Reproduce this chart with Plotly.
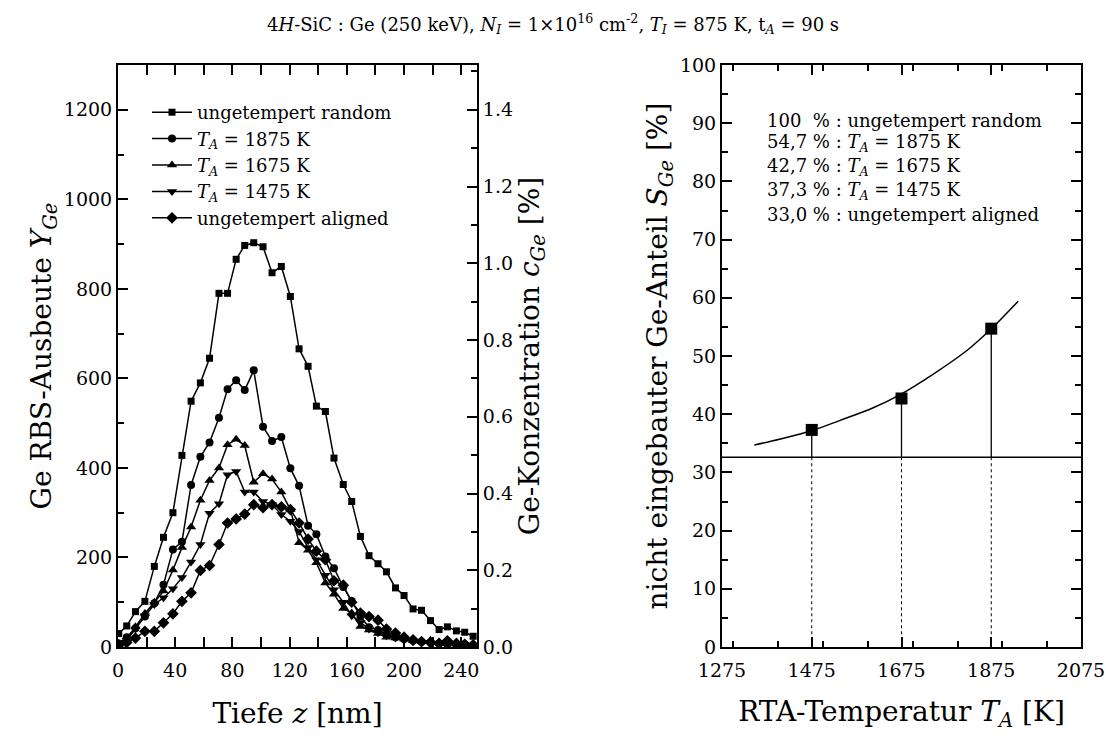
import plotly.graph_objects as go

# ---------------- data: left panel (RBS depth profiles) ----------------
depth_nm = [0.5, 6.1, 12.2, 18.8, 25.4, 31.8, 38.4, 44.7, 51.1, 57.6, 64.0, 70.6, 76.6, 82.6,
            88.6, 94.9, 101.4, 107.7, 114.2, 120.5, 126.6, 132.9, 138.7, 145.0, 151.0, 157.5,
            163.4, 169.5, 175.5, 181.8, 187.7, 194.0, 200.0, 206.3, 212.2, 218.5, 224.5, 230.3,
            236.6, 242.4, 248.3]
yield_random = [30, 47, 79, 102, 180, 245, 300, 428, 549, 590,
                645, 790, 790, 866, 897, 903, 894, 836, 850, 783,
                666, 627, 538, 526, 422, 363, 325, 247, 204, 186,
                168, 132, 115, 85, 82, 59, 39, 45, 36, 33, 24]
yield_1875 = [8, 22, 42, 68, 98, 139, 218, 235, 362, 425,
              457, 512, 576, 596, 574, 618, 492, 460, 469, 399,
              360, 271, 252, 202, 176, 134, 103, 68, 44, 38,
              28, 22, 18, 14, 12, 10, 8, 6, 5, 6, 4]
yield_1675 = [5, 18, 45, 75, 100, 125, 172, 222, 268, 328,
              372, 400, 452, 464, 450, 368, 387, 375, 346, 307,
              233, 216, 188, 143, 118, 86, 76, 46, 38, 30,
              22, 20, 18, 14, 12, 15, 10, 8, 6, 5, 4]
yield_1475 = [5, 15, 40, 70, 95, 110, 130, 155, 190, 229,
              299, 320, 385, 392, 346, 346, 325, 318, 296, 281,
              258, 222, 195, 160, 128, 100, 70, 55, 40, 32,
              25, 20, 15, 12, 10, 8, 6, 8, 5, 5, 4]
yield_aligned = [5, 10, 20, 35, 35, 54, 74, 102, 121, 171,
                 182, 229, 277, 286, 297, 318, 311, 318, 313, 307,
                 277, 241, 214, 195, 148, 138, 100, 76, 68, 60,
                 40, 31, 22, 16, 12, 10, 8, 14, 8, 6, 5]
yield_per_percent = 857.142857   # 1200 counts <-> 1.4 %

series_names = ["ungetempert random",
                "<i>T</i><sub><i>A</i></sub> = 1875 K",
                "<i>T</i><sub><i>A</i></sub> = 1675 K",
                "<i>T</i><sub><i>A</i></sub> = 1475 K",
                "ungetempert aligned"]
series_values = [yield_random, yield_1875, yield_1675, yield_1475, yield_aligned]
series_symbols = ["square", "circle", "triangle-up", "triangle-down", "diamond"]
series_sizes = [7, 8, 9, 9, 9]

# ---------------- data: right panel (non-substitutional fraction) ----------------
anneal_T = [1475, 1675, 1875]
fraction_S = [37.3, 42.7, 54.7]
aligned_level = 32.6
fit_T = [1347, 1403, 1476, 1537, 1612, 1675, 1746, 1820, 1874, 1910, 1935]
fit_S = [34.7, 35.7, 37.2, 38.9, 41.1, 43.5, 46.9, 50.9, 54.6, 57.4, 59.4]
info_lines = ["100\u00a0\u00a0% : ungetempert random",
              "54,7 % : <i>T</i><sub><i>A</i></sub> = 1875 K",
              "42,7 % : <i>T</i><sub><i>A</i></sub> = 1675 K",
              "37,3 % : <i>T</i><sub><i>A</i></sub> = 1475 K",
              "33,0 % : ungetempert aligned"]

W, H = 1106, 738
FONT = "DejaVu Serif"

def px_x(p):
    return p / W

def px_y(p):
    return 1 - p / H

fig = go.Figure()

for name, vals, sym, sz in zip(series_names, series_values, series_symbols, series_sizes):
    fig.add_trace(go.Scatter(
        x=depth_nm, y=vals, mode="lines+markers", name=name,
        marker=dict(symbol=sym, size=sz, color="black"),
        line=dict(color="black", width=1.5),
        xaxis="x", yaxis="y"))

# invisible trace to activate the concentration axis
fig.add_trace(go.Scatter(
    x=depth_nm, y=[v / yield_per_percent for v in yield_random], mode="lines",
    line=dict(width=0, color="rgba(0,0,0,0)"), showlegend=False, hoverinfo="skip",
    xaxis="x", yaxis="y2"))

# right panel: fit curve
fig.add_trace(go.Scatter(
    x=fit_T, y=fit_S, mode="lines", line=dict(color="black", width=1.5, shape="spline"),
    showlegend=False, xaxis="x2", yaxis="y3"))

# solid drop lines from points to aligned level, dotted below
sx, sy, dx, dy = [], [], [], []
for t, s in zip(anneal_T, fraction_S):
    sx += [t, t, None]
    sy += [s, aligned_level, None]
    dx += [t, t, None]
    dy += [aligned_level, 0, None]
fig.add_trace(go.Scatter(x=sx, y=sy, mode="lines", line=dict(color="black", width=1.3),
                         showlegend=False, xaxis="x2", yaxis="y3"))
fig.add_trace(go.Scatter(x=dx, y=dy, mode="lines", line=dict(color="black", width=1, dash="dot"),
                         showlegend=False, xaxis="x2", yaxis="y3"))
fig.add_trace(go.Scatter(x=anneal_T, y=fraction_S, mode="markers",
                         marker=dict(symbol="square", size=12, color="black"),
                         showlegend=False, xaxis="x2", yaxis="y3"))

fig.add_shape(type="line", xref="x2 domain", x0=0, x1=1, yref="y3",
              y0=aligned_level, y1=aligned_level, line=dict(color="black", width=1.3))

axis_common = dict(showline=True, linewidth=2, linecolor="black", ticks="inside",
                   ticklen=10, tickwidth=1.5, tickcolor="black", showgrid=False,
                   zeroline=False, tickfont=dict(size=19, family=FONT, color="black"),
                   automargin=False)
minor_common = dict(ticks="inside", ticklen=6, tickwidth=1.5, tickcolor="black")

dom_y = [px_y(647), px_y(65)]
title_font = dict(size=28, family=FONT, color="black")

fig.update_layout(
    width=W, height=H, margin=dict(l=0, r=0, t=0, b=0),
    paper_bgcolor="white", plot_bgcolor="white",
    font=dict(family=FONT, color="black"),
    xaxis=dict(axis_common, domain=[px_x(118), px_x(477)], anchor="y", range=[0, 251],
               tick0=0, dtick=40, mirror="allticks", ticklabelstandoff=5,
               minor=dict(minor_common, dtick=20),
               title=dict(text="Tiefe <i>z</i> [nm]", font=title_font, standoff=24)),
    yaxis=dict(axis_common, domain=dom_y, anchor="x", range=[0, 1300], tick0=0, dtick=200,
               minor=dict(minor_common, dtick=100),
               title=dict(text="Ge RBS-Ausbeute <i>Y</i><sub><i>Ge</i></sub>", font=title_font,
                          standoff=4)),
    yaxis2=dict(axis_common, overlaying="y", side="right", anchor="x",
                range=[0, 1300 / yield_per_percent], tick0=0, dtick=0.2, tickformat=".1f",
                minor=dict(minor_common, dtick=0.1),
                title=dict(text="Ge-Konzentration <i>c</i><sub><i>Ge</i></sub> [%]",
                           font=title_font, standoff=6)),
    xaxis2=dict(axis_common, domain=[px_x(722), px_x(1081)], anchor="y3", range=[1275, 2075],
                tick0=1275, dtick=200, mirror="allticks", ticklabelstandoff=5,
                minor=dict(minor_common, dtick=100),
                title=dict(text="RTA-Temperatur <i>T</i><sub><i>A</i></sub> [K]", font=title_font,
                           standoff=22)),
    yaxis3=dict(axis_common, domain=dom_y, anchor="x2", range=[0, 100], tick0=0, dtick=10,
                mirror="allticks",
                minor=dict(minor_common, dtick=5),
                title=dict(text="nicht eingebauter Ge-Anteil <i>S</i><sub><i>Ge</i></sub> [%]",
                           font=title_font, standoff=4)),
    legend=dict(x=px_x(147), y=px_y(94), xanchor="left", yanchor="top",
                bgcolor="rgba(0,0,0,0)", borderwidth=0,
                font=dict(size=18, family=FONT, color="black"), itemwidth=40,
                tracegroupgap=0),
)

fig.add_annotation(
    xref="paper", yref="paper", x=0.5, y=px_y(24), xanchor="center", yanchor="middle",
    showarrow=False, font=dict(size=18, family=FONT, color="black"),
    text="4<i>H</i>-SiC : Ge (250 keV), <i>N</i><sub><i>I</i></sub> = 1×10<sup>16</sup> cm<sup>-2</sup>, "
         "<i>T</i><sub><i>I</i></sub> = 875 K, t<sub><i>A</i></sub> = 90 s")

row_y = [120, 143, 167, 191, 215]
for line, yy in zip(info_lines, row_y):
    fig.add_annotation(xref="paper", yref="paper", x=px_x(765), y=px_y(yy),
                       xanchor="left", yanchor="middle", showarrow=False, text=line,
                       font=dict(size=18, family=FONT, color="black"))

fig.write_html("out.html")
